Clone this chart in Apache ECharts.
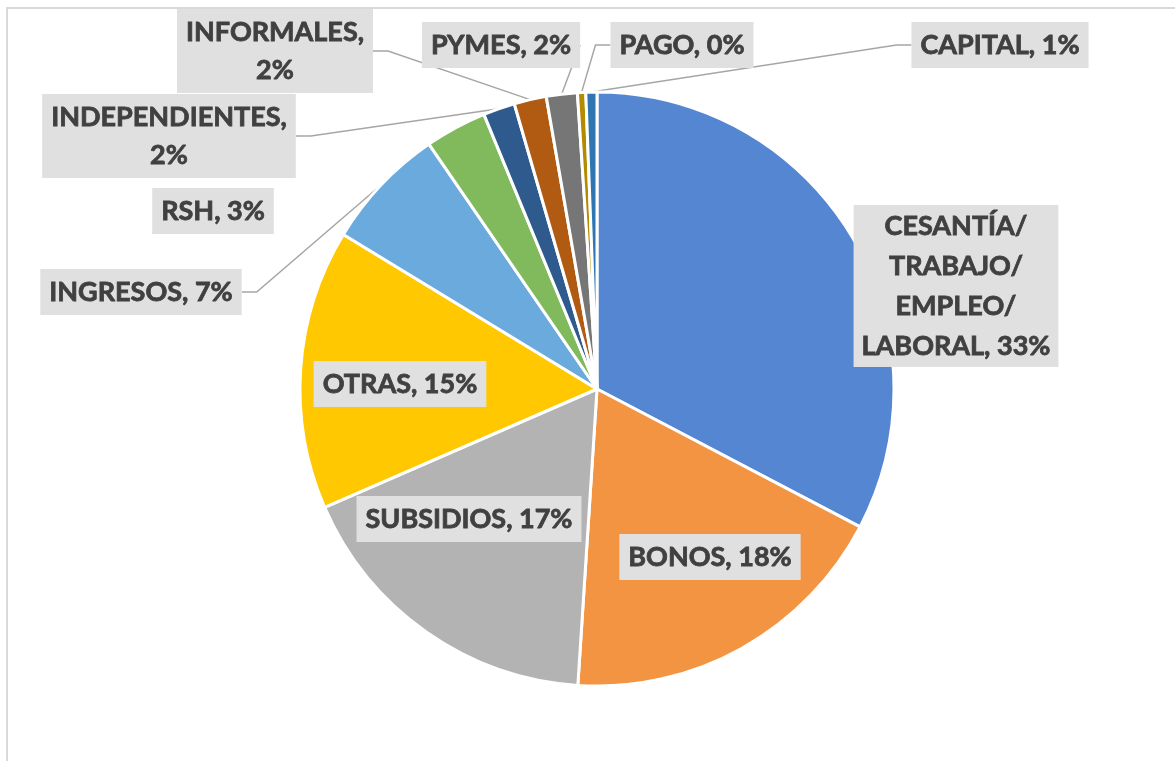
<!DOCTYPE html>
<html>
<head>
<meta charset="utf-8">
<script src="https://cdn.jsdelivr.net/npm/echarts@6/dist/echarts.min.js"></script>
<style>
  html, body { margin: 0; padding: 0; background: #fff; }
  #chart-container { width: 1175px; height: 761px; }
</style>
</head>
<body>
<div id="chart-container"></div>
<script>
// datos (porcentajes aproximados)
const categories = [
  "CESANTÍA/TRABAJO/EMPLEO/LABORAL", "BONOS", "SUBSIDIOS", "OTRAS", "INGRESOS",
  "RSH", "INDEPENDIENTES", "INFORMALES", "PYMES", "PAGO", "CAPITAL"
];
const values = [32.6, 18.3, 17.4, 15.2, 6.7, 3.35, 1.72, 1.75, 1.68, 0.45, 0.6];
const colors = [
  "#5586D2", "#F29442", "#B3B3B3", "#FFC800", "#6BAADC",
  "#80BA5D", "#2F5A8E", "#B15A12", "#767676", "#B38B00", "#2E75B2"
];

// donde van las etiquetas (centro de la caja) y si llevan línea guía
const labelPos = {
  "CESANTÍA/TRABAJO/EMPLEO/LABORAL": [956, 286, false],
  "BONOS": [710, 557, false],
  "SUBSIDIOS": [469, 519, false],
  "OTRAS": [400, 384, false],
  "INGRESOS": [141, 292, true],
  "RSH": [213, 211, false],
  "INDEPENDIENTES": [169, 136, true],
  "INFORMALES": [275, 51, true],
  "PYMES": [501, 45, true],
  "PAGO": [682, 45, true],
  "CAPITAL": [1000, 45, true]
};
const twoLines = ["INDEPENDIENTES", "INFORMALES"];

var myChart = echarts.init(document.getElementById("chart-container"));

const pieData = categories.map((name, i) => ({
  name: name,
  value: values[i],
  itemStyle: { color: colors[i] },
  labelLine: { show: labelPos[name][2] },
  label: i === 0 ? { lineHeight: 40, padding: [1, 8] } : {}
}));

var option = {
  animation: false,
  graphic: [{
    type: "rect",
    shape: { x: 7, y: 8, width: 1200, height: 800 },
    style: { fill: "none", stroke: "#D9D9D9", lineWidth: 2 },
    silent: true
  }],
  series: [{
    type: "pie",
    center: [597, 389],
    radius: 297,
    startAngle: 90,
    clockwise: true,
    data: pieData,
    itemStyle: { borderColor: "#fff", borderWidth: 3 },
    emphasis: { disabled: true },
    label: {
      show: true,
      position: "outside",
      fontFamily: "Lato",
      fontWeight: "bold",
      fontSize: 27,
      color: "#404040",
      textBorderColor: "#404040",
      textBorderWidth: 0.8,
      backgroundColor: "#E0E0E0",
      padding: [4, 9],
      lineHeight: 38,
      formatter: (p) => {
        const pct = Math.round(p.percent) + "%";
        if (p.dataIndex === 0) return p.name.replace(/\//g, "/\n") + ", " + pct;
        if (twoLines.includes(p.name)) return p.name + ",\n" + pct;
        return p.name + ", " + pct;
      }
    },
    labelLine: {
      length: 10,
      length2: 15,
      lineStyle: { color: "#A6A6A6", width: 1.5 }
    },
    labelLayout: (params) => {
      const pos = labelPos[categories[params.dataIndex]];
      return { x: pos[0], y: pos[1], align: "center", verticalAlign: "middle" };
    }
  }]
};

option && myChart.setOption(option);
</script>
</body>
</html>
